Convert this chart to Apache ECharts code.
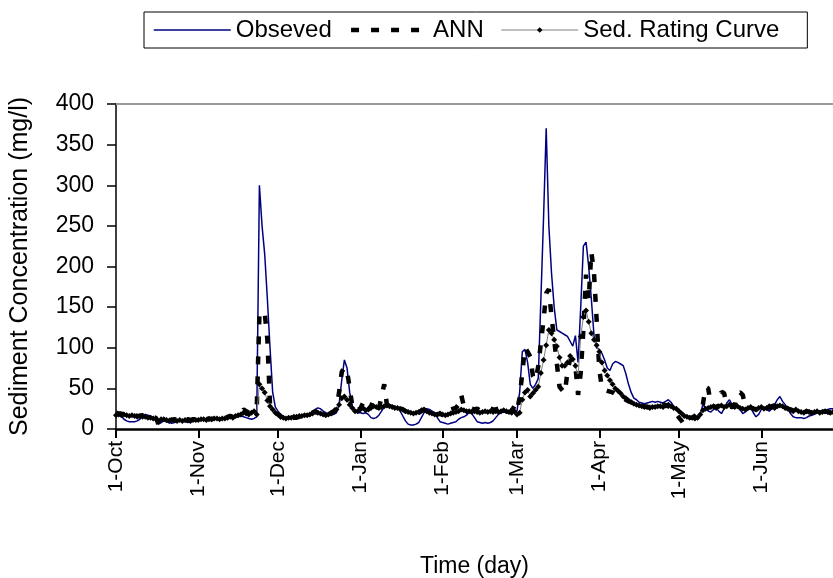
<!DOCTYPE html>
<html><head><meta charset="utf-8">
<script src="https://cdn.jsdelivr.net/npm/echarts@6/dist/echarts.min.js"></script>
<style>html,body{margin:0;padding:0;background:#fff}#c{width:833px;height:578px}</style>
</head><body><div id="c"></div>
<script>
// Months covered (Oct -> late Jun), daily values
const months = ['Oct','Nov','Dec','Jan','Feb','Mar','Apr','May','Jun'];
const monthDays = [31, 30, 31, 31, 28, 31, 30, 31, 28];

// Observed sediment concentration (mg/l)
const observed = [
  // Oct
  18,17,16,12,10,9,9,9,10,12, 17,18,17,16,14,10,6,8,10,9, 8,7,8,9,10,10,9,8,9,10,11,
  // Nov
  11,12,12,11,12,13,12,13,12,13, 14,13,14,15,14,15,16,15,14,13, 12,13,15,300,250,215,160,100,45,27,
  // Dec
  22,18,15,13,14,15,14,15,16,17, 18,17,16,20,24,26,25,22,20,18, 17,18,20,30,60,85,75,45,28,22,20,
  // Jan
  20,19,20,18,14,13,14,17,22,27, 29,30,29,28,26,22,16,10,6,5, 5,6,8,14,20,25,24,22,20,14,9,
  // Feb
  8,7,6,7,8,9,12,14,15,17, 21,19,14,9,8,7,8,7,8,10, 14,18,20,21,20,19,20,21,
  // Mar
  22,45,95,98,82,55,50,55,62,160, 260,370,250,192,150,122,120,118,116,114, 108,102,115,82,150,225,230,200,160,115,100,
  // Apr
  98,93,85,75,72,80,83,82,80,78, 68,55,45,38,36,33,32,31,32,33, 34,33,34,33,32,34,36,33,28,25,
  // May
  22,18,16,15,14,13,12,12,18,30, 26,22,21,24,26,22,19,25,32,36, 30,26,28,24,19,21,24,26,20,15,18,
  // Jun
  24,26,24,22,25,30,36,40,34,30, 25,19,15,14,14,14,13,14,16,17, 18,20,22,23,22,24,25,25
];

// ANN estimate
const ann = [
  20,19,19,18,18,17,18,17,16,16, 17,16,15,15,14,14,6,10,12,12, 11,11,12,11,12,10,11,12,11,12,12,
  12,12,13,12,13,12,13,14,13,14, 14,15,16,15,17,18,20,24,22,20, 22,24,25,140,145,143,110,30,22,20,
  18,15,12,10,12,13,14,14,15,16, 17,18,18,20,22,20,19,18,17,18, 20,22,25,45,70,76,72,50,28,22,24,
  25,32,22,24,28,35,30,25,40,55, 30,28,27,26,27,25,24,22,20,19, 18,19,20,22,24,20,19,18,17,18,19,
  17,16,18,24,25,26,30,42,28,27, 28,25,24,25,23,24,23,24,25,24, 24,25,24,25,26,24,22,28,
  22,39,69,100,95,89,65,60,77,106, 134,167,172,138,110,81,52,48,44,70, 86,80,77,42,69,122,190,159,218,192,134,
  73,50,48,47,46,45,43,42,40,38, 36,34,33,31,30,29,28,28,27,27, 28,27,28,29,30,29,28,26,24,18,
  14,10,5,12,14,14,16,20,24,30, 52,50,30,28,27,29,46,44,30,28, 27,29,44,45,42,28,27,26,25,24,25,
  26,28,27,26,28,29,27,28,30,27, 25,24,23,24,22,21,20,22,21,20, 20,22,21,20,22,21,20,22
];

// Sediment rating curve estimate
const ratingCurve = [
  17,18,17,18,17,16,17,16,15,16, 15,15,14,14,13,13,9,12,12,11, 10,11,11,10,11,10,11,11,10,11,11,
  11,12,12,11,12,12,13,13,12,13, 13,14,15,14,16,17,18,20,19,18, 20,22,18,55,50,45,35,28,24,20,
  18,16,14,13,14,14,15,15,16,16, 17,17,18,19,21,20,19,18,17,18, 19,21,24,30,38,40,36,30,26,22,22,
  24,26,23,24,26,28,27,26,27,28, 29,28,27,26,26,25,24,22,21,20, 19,20,21,23,24,22,20,19,18,18,19,
  18,17,18,19,20,21,22,24,23,22, 22,21,22,21,20,21,22,21,22,21, 22,21,22,23,22,21,20,22,
  18,20,36,45,48,40,44,48,52,69, 85,103,122,118,110,102,88,78,78,82, 90,86,78,65,114,138,146,132,118,110,103,
  95,82,72,66,60,55,50,47,44,40, 38,35,33,31,30,29,28,27,27,26, 27,27,28,28,27,29,30,28,26,25,
  22,19,16,15,14,14,13,14,18,23, 25,26,27,28,26,28,29,27,28,30, 29,27,28,26,25,24,26,27,25,24,26,
  27,25,26,28,27,26,28,29,28,26, 25,23,22,24,22,21,20,22,21,20, 21,22,20,21,22,21,20,21
];

const seriesNames = ['Obseved', 'ANN', 'Sed. Rating Curve'];

const categories = [];
months.forEach((m, i) => { for (let d = 1; d <= monthDays[i]; d++) categories.push(d + '-' + m); });
const isMonthStart = (idx, val) => String(val).split('-')[0] === '1';

const FONT = '"Liberation Sans", Arial, sans-serif';
const chart = echarts.init(document.getElementById('c'));
chart.setOption({
  animation: false,
  backgroundColor: '#fff',
  textStyle: { fontFamily: FONT, color: '#000' },
  legend: {
    data: [
      { name: seriesNames[0], itemStyle: { opacity: 0 }, lineStyle: { width: 1.5, color: '#000080' } },
      { name: seriesNames[1], itemStyle: { opacity: 0 }, lineStyle: { width: 4.5, color: '#000', type: [8, 12] } },
      { name: seriesNames[2], lineStyle: { width: 1, color: '#808080' } }
    ],
    left: 144, top: 12,
    padding: [6, 28, 6, 9],
    borderColor: '#000', borderWidth: 1,
    itemWidth: 77, itemHeight: 7, itemGap: 17,
    textStyle: { fontSize: 24, color: '#000', fontFamily: FONT }
  },
  grid: { left: 116, right: 0, top: 104, bottom: 149, containLabel: false, outerBoundsMode: 'none' },
  xAxis: [{
    type: 'category', data: categories, boundaryGap: false,
    axisLine: { lineStyle: { color: '#000', width: 2.5 } },
    axisTick: { interval: isMonthStart, length: 9, lineStyle: { color: '#000', width: 2 } },
    axisLabel: { interval: isMonthStart, rotate: 90, margin: 12, fontSize: 21, color: '#000', fontFamily: FONT },
    splitLine: { show: false },
    name: 'Time (day)', nameLocation: 'middle', nameGap: 126,
    nameTextStyle: { fontSize: 23, color: '#000', fontFamily: FONT }
  }, {
    type: 'category', data: categories, boundaryGap: false, position: 'top',
    axisLine: { lineStyle: { color: '#999', width: 2 } },
    axisTick: { show: false }, axisLabel: { show: false }, splitLine: { show: false }
  }],
  yAxis: {
    type: 'value', min: 0, max: 400, interval: 50,
    axisLine: { show: true, lineStyle: { color: '#000', width: 1.5 } },
    axisTick: { show: true, length: 9, lineStyle: { color: '#000', width: 1.5 } },
    axisLabel: { margin: 22, fontSize: 23, color: '#000', fontFamily: FONT },
    splitLine: { show: false },
    name: 'Sediment Concentration (mg/l)', nameLocation: 'middle', nameRotate: 90, nameGap: 83,
    nameTextStyle: { fontSize: 25, color: '#000', fontFamily: FONT }
  },
  series: [
    { name: seriesNames[0], type: 'line', data: observed, symbol: 'none',
      lineStyle: { color: '#000080', width: 1.5 }, itemStyle: { color: '#000080' } },
    { name: seriesNames[1], type: 'line', data: ann, symbol: 'none',
      lineStyle: { color: '#000', width: 4.5, type: [8, 12] }, itemStyle: { color: '#000' } },
    { name: seriesNames[2], type: 'line', data: ratingCurve, symbol: 'diamond', symbolSize: 6,
      showAllSymbol: true,
      lineStyle: { color: '#808080', width: 1 }, itemStyle: { color: '#000' } }
  ]
});
</script></body></html>
